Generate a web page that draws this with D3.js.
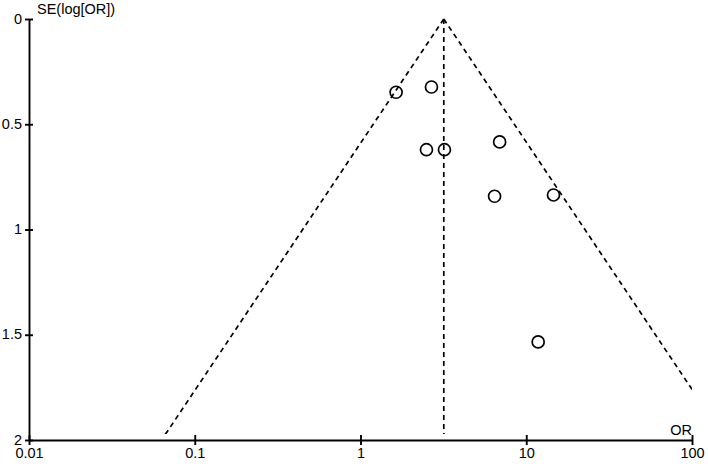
<!DOCTYPE html>
<html>
<head>
<meta charset="utf-8">
<script src="https://cdn.jsdelivr.net/npm/d3@7"></script>
<style>
	body { margin: 0; background: #fff; }
	text { font-family: "Liberation Sans", Arial, sans-serif; font-size: 14.5px; fill: #000; }
	.axis path, .axis line { stroke: #000; stroke-width: 1.9; }
	.axis text { font-family: "Liberation Sans", Arial, sans-serif; font-size: 14.5px; }
</style>
</head>
<body>
<div id="chart-area"></div>
<script>
// study data
let studyOR = [1.64, 2.68, 2.50, 3.21, 6.91, 6.44, 14.6, 11.8];
let studySE = [0.348, 0.323, 0.621, 0.621, 0.584, 0.842, 0.836, 1.534];

// pooled estimate (apex of the funnel)
let pooledOR = 3.18;

let xTicks = [0.01, 0.1, 1, 10, 100];
let yTicks = [0, 0.5, 1, 1.5, 2];
let funnelSE = [0, 2];

// SVG Size
let width = 708,
	height = 464;

let data = studyOR.map((d, i) => ({ or: d, se: studySE[i] }));

drawChart(data);

function drawChart(data) {
	let svg = d3.select("#chart-area").append("svg")
		.attr("width", width)
		.attr("height", height);

	let XScale = d3.scaleLog()
		.domain([0.01, 100])
		.range([29, 692]);
	let YScale = d3.scaleLinear()
		.domain([0, 2])
		.range([19, 440]);

	svg.append("clipPath")
		.attr("id", "plot-clip")
		.append("rect")
		.attr("x", XScale.range()[0])
		.attr("y", YScale.range()[0] - 2)
		.attr("width", XScale.range()[1] - XScale.range()[0])
		.attr("height", YScale.range()[1] - YScale.range()[0] - 4);

	let plot = svg.append("g").attr("clip-path", "url(#plot-clip)");

	// funnel limits: pooled * exp(+-1.96 SE)
	let line = d3.line()
		.x(d => XScale(d[0]))
		.y(d => YScale(d[1]));

	[-1, 1].forEach(sign => {
		plot.append("path")
			.datum(funnelSE.map(se => [pooledOR * Math.exp(sign * 1.96 * se), se]))
			.attr("d", line)
			.attr("fill", "none")
			.attr("stroke", "#000")
			.attr("stroke-width", 1.7)
			.attr("stroke-dasharray", "5,4");
	});

	plot.append("path")
		.datum(funnelSE.map(se => [pooledOR, se]))
		.attr("d", line)
		.attr("fill", "none")
		.attr("stroke", "#000")
		.attr("stroke-width", 1.7)
		.attr("stroke-dasharray", "5,4");

	//The Axis
	let xAxis = d3.axisBottom(XScale)
		.tickValues(xTicks)
		.tickFormat(d => String(d))
		.tickSizeOuter(0)
		.tickSizeInner(5)
		.tickPadding(3);

	let yAxis = d3.axisLeft(YScale)
		.tickValues(yTicks)
		.tickFormat(d => String(d))
		.tickSizeOuter(0)
		.tickSizeInner(4)
		.tickPadding(3);

	let gx = svg.append("g")
		.attr("class", "axis x-axis")
		.attr("transform", "translate(0," + YScale.range()[1] + ")")
		.call(xAxis);
	gx.selectAll(".tick line").attr("y1", -5).attr("y2", 5);

	let gy = svg.append("g")
		.attr("class", "axis y-axis")
		.attr("transform", "translate(" + XScale.range()[0] + ",0)")
		.call(yAxis);
	gy.selectAll(".tick line").attr("x1", -4).attr("x2", 4);
	gy.selectAll(".tick text").attr("dy", "0.28em");

	// study points
	svg.selectAll("study-circles").data(data)
		.enter()
		.append("circle")
		.attr("class", "study-circle")
		.attr("cx", d => XScale(d.or))
		.attr("cy", d => YScale(d.se))
		.attr("r", 6)
		.attr("fill", "none")
		.attr("stroke", "#000")
		.attr("stroke-width", 1.7);

	// axis titles
	svg.append("text")
		.attr("x", XScale.range()[0] + 8)
		.attr("y", 14)
		.text("SE(log[OR])");

	svg.append("text")
		.attr("x", XScale.range()[1])
		.attr("y", YScale.range()[1] - 5)
		.attr("text-anchor", "end")
		.text("OR");
}
</script>
</body>
</html>
